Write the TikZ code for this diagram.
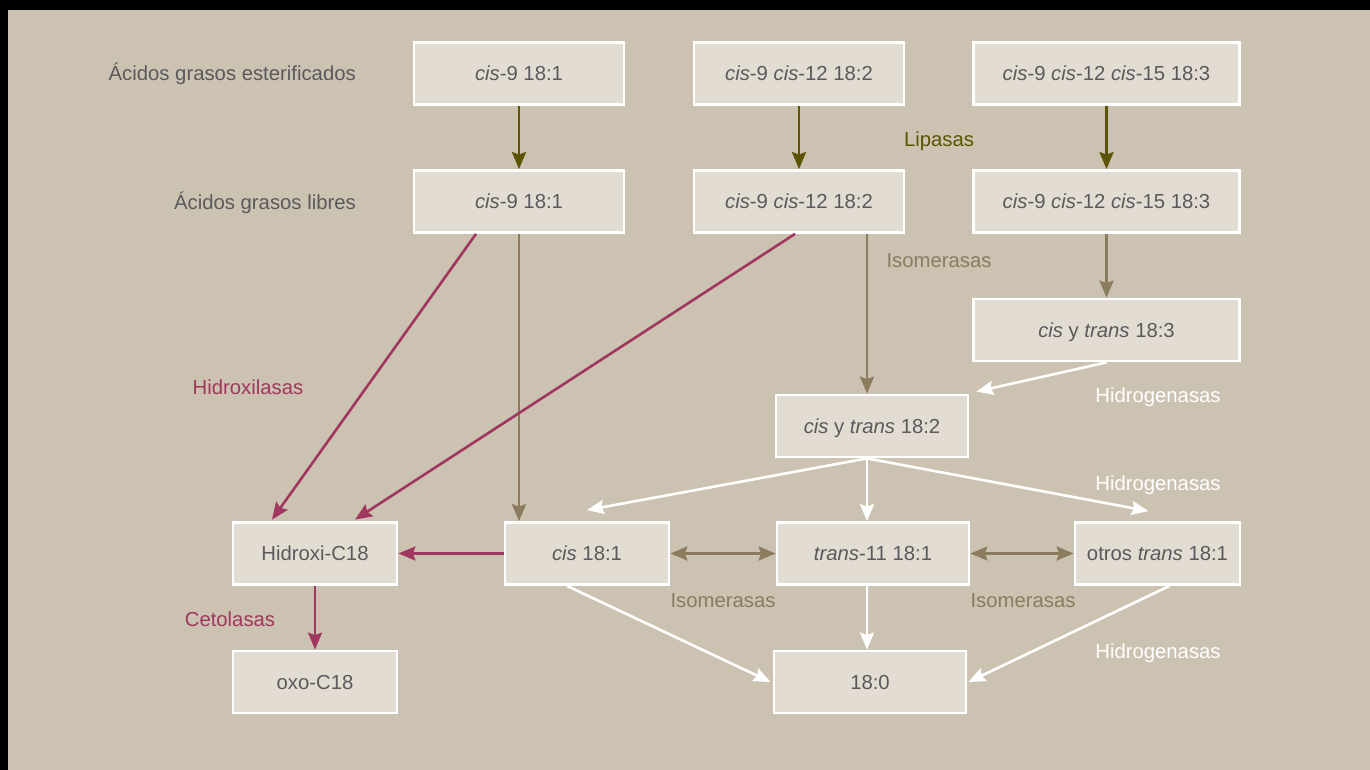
\documentclass[tikz,border=0pt]{standalone}
\usepackage{fontspec}
\setmainfont{Liberation Sans}
\usetikzlibrary{arrows.meta,calc}
\definecolor{bg}{HTML}{CCC2B1}
\definecolor{boxfill}{HTML}{E2DCD3}
\definecolor{txt}{HTML}{5A5A5C}
\definecolor{olive}{HTML}{5C5300}
\definecolor{taupe}{HTML}{8B7C60}
\definecolor{mag}{HTML}{A0375F}
\tikzset{
  every node/.style={font=\fontsize{20.3}{24}\selectfont, text height=14.6pt, text depth=0pt, inner sep=0pt},
  stepbox/.style={draw=white, line width=2.8pt, fill=boxfill, text=txt, minimum height=62pt},
  lab/.style={text=txt},
  arr/.style={line width=2.6pt, -{Stealth[length=17pt,width=14pt,inset=2.5pt]}},
  darr/.style={line width=2.6pt, {Stealth[length=17pt,width=14pt,inset=2.5pt]}-{Stealth[length=17pt,width=14pt,inset=2.5pt]}},
  oarr/.style={arr, draw=olive},
  tarr/.style={arr, draw=taupe},
  marr/.style={arr, draw=mag},
  warr/.style={arr, draw=white},
  tdarr/.style={darr, draw=taupe},
}
\begin{document}
\begin{tikzpicture}[x=1pt,y=-1pt]
\useasboundingbox (0,0) rectangle (1370,770);
\fill[black] (0,0) rectangle (1370,770);
\fill[bg] (8,10) rectangle (1370,770);

% boxes
\node[stepbox, minimum width=210pt] (r1a) at (519,73.5) {\textit{cis}-9 18:1};
\node[stepbox, minimum width=210pt] (r1b) at (799,73.5) {\textit{cis}-9 \textit{cis}-12 18:2};
\node[stepbox, minimum width=266pt] (r1c) at (1106.5,73.5) {\textit{cis}-9 \textit{cis}-12 \textit{cis}-15 18:3};
\node[stepbox, minimum width=210pt] (r2a) at (519,201.5) {\textit{cis}-9 18:1};
\node[stepbox, minimum width=210pt] (r2b) at (799,201.5) {\textit{cis}-9 \textit{cis}-12 18:2};
\node[stepbox, minimum width=266pt] (r2c) at (1106.5,201.5) {\textit{cis}-9 \textit{cis}-12 \textit{cis}-15 18:3};
\node[stepbox, minimum width=266pt] (t3) at (1106.5,330) {\textit{cis} y \textit{trans} 18:3};
\node[stepbox, minimum width=192pt] (t2) at (872,426) {\textit{cis} y \textit{trans} 18:2};
\node[stepbox, minimum width=164pt] (hid) at (315,553.5) {Hidroxi-C18};
\node[stepbox, minimum width=164pt] (cis) at (587,553.5) {\textit{cis} 18:1};
\node[stepbox, minimum width=192pt] (tr) at (873,553.5) {\textit{trans}-11 18:1};
\node[stepbox, minimum width=165pt] (ot) at (1157.5,553.5) {otros \textit{trans} 18:1};
\node[stepbox, minimum width=164pt] (oxo) at (315,682) {oxo-C18};
\node[stepbox, minimum width=192pt] (z) at (870,682) {18:0};

% labels
\node[lab, anchor=east] (l1) at (356,73.5) {Ácidos grasos esterificados};
\node[lab, anchor=east] (l2) at (356,202) {Ácidos grasos libres};
\node[text=olive] (lip) at (939,139) {Lipasas};
\node[text=taupe] (iso1) at (939,260) {Isomerasas};
\node[text=mag] (hx) at (248,387) {Hidroxilasas};
\node[text=white] (hg1) at (1158,395) {Hidrogenasas};
\node[text=white] (hg2) at (1158,483) {Hidrogenasas};
\node[text=white] (hg3) at (1158,651) {Hidrogenasas};
\node[text=mag] (ce) at (230,619) {Cetolasas};
\node[text=taupe] (iso2) at (723,600) {Isomerasas};
\node[text=taupe] (iso3) at (1023,600) {Isomerasas};

% lipasas
\draw[oarr] (r1a.south) -- (r2a.north);
\draw[oarr] (r1b.south) -- (r2b.north);
\draw[oarr] (r1c.south) -- (r2c.north);

% isomerasas (vertical)
\draw[tarr] (r2a.south) -- (r2a.south |- cis.north);
\coordinate (a1) at ($(t2.north)+(-5,0)$);
\draw[tarr] (r2b.south -| a1) -- (a1);
\draw[tarr] (r2c.south) -- (t3.north);

% hidroxilasas
\draw[marr] ($(r2a.south)+(-43,0)$) -- ($(hid.north)+(-43,-1.5)$);
\draw[marr] ($(r2b.south)+(-4,0)$) -- ($(hid.north)+(40,-1.5)$);
\draw[marr] (cis.west) -- (hid.east);
\draw[marr] (hid.south) -- (oxo.north);

% hidrogenasas
\draw[warr] (t3.south) -- ($(t2.north east)+(7,-2)$);
\coordinate (b1) at ($(t2.south)+(-5,0)$);
\draw[warr] (b1) -- ($(cis.north)+(0,-11)$);
\draw[warr] (b1) -- (b1 |- tr.north);
\draw[warr] (b1) -- ($(ot.north)+(-9,-10)$);
\draw[warr] ($(cis.south)+(-20,0)$) -- ($(z.west)+(-2,0)$);
\coordinate (b2) at ($(tr.south)+(-6,0)$);
\draw[warr] (b2) -- (b2 |- z.north);
\draw[warr] ($(ot.south)+(12,0)$) -- ($(z.east)+(1,0)$);

% isomerasas (double)
\draw[tdarr] (cis.east) -- (tr.west);
\draw[tdarr] (tr.east) -- (ot.west);
\end{tikzpicture}
\end{document}
